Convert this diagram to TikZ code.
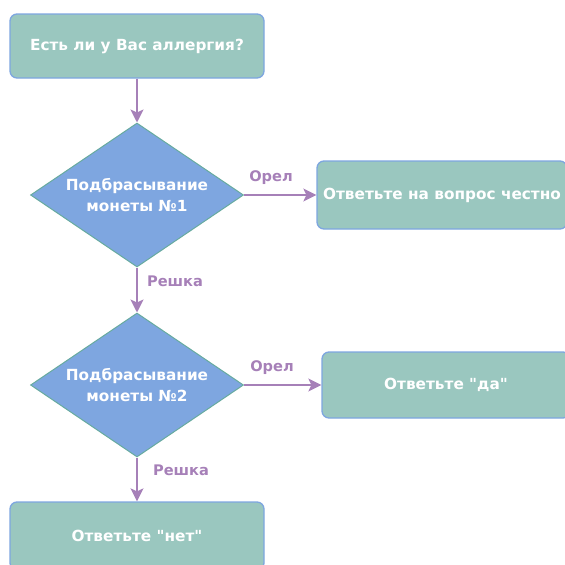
\documentclass[tikz,border=0pt]{standalone}
\usepackage{fontspec}
\setmainfont{DejaVu Sans}[Ligatures=TeXOff]
\usetikzlibrary{shapes.geometric,arrows.meta}
\definecolor{boxfill}{HTML}{9AC7BF}
\definecolor{boxline}{HTML}{7EA6E0}
\definecolor{diafill}{HTML}{7EA6E0}
\definecolor{dialine}{HTML}{67AB9F}
\definecolor{arrowcol}{HTML}{A680B8}
\tikzset{
  box/.style={draw=boxline, fill=boxfill, line width=1.3pt, rounded corners=7pt,
    font=\fontsize{15.3}{21}\selectfont\bfseries, text=white, align=center, inner sep=0pt},
  dia/.style={shape=diamond, draw=dialine, fill=diafill, line width=1pt, aspect=1.5,
    inner sep=0pt, minimum width=213pt, minimum height=144pt,
    font=\fontsize{15.3}{21}\selectfont\bfseries, text=white, align=center},
  conn/.style={draw=arrowcol, line width=1.6pt, -{Stealth[length=13pt,width=13pt,inset=3pt]}},
  lbl/.style={text=arrowcol, font=\fontsize{14.6}{16}\selectfont\bfseries, inner sep=0pt}
}
\begin{document}
\begin{tikzpicture}[x=1pt,y=-1pt]
\useasboundingbox (0,0) rectangle (565,565);
\clip (0,0) rectangle (565,565);
\node[box, minimum width=254pt, minimum height=64pt] (q) at (137,46) {Есть ли у Вас аллергия?};
\node[dia] (d1) at (137,195) {Подбрасывание\\монеты №1};
\node[box, minimum width=250pt, minimum height=68pt] (a1) at (442,195) {Ответьте на вопрос честно};
\node[dia] (d2) at (137,385) {Подбрасывание\\монеты №2};
\node[box, minimum width=248pt, minimum height=66pt] (a2) at (446,385) {Ответьте "да"};
\node[box, minimum width=254pt, minimum height=68pt] (a3) at (137,536) {Ответьте "нет"};
\draw[conn] (q) -- (d1);
\draw[conn] (d1) -- (a1);
\draw[conn] (d1) -- (d2);
\draw[conn] (d2) -- (a2);
\draw[conn] (d2) -- (a3);
\node[lbl] (l1) at (271,178) {Орел};
\node[lbl] (l2) at (175,281) {Решка};
\node[lbl] (l3) at (272,368) {Орел};
\node[lbl] (l4) at (181,470) {Решка};
\end{tikzpicture}
\end{document}
